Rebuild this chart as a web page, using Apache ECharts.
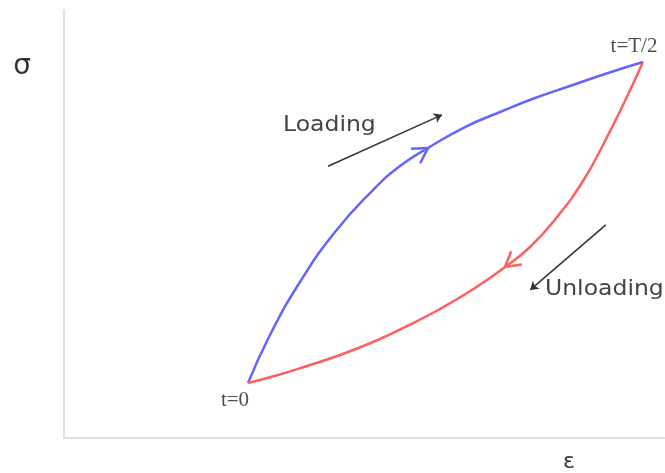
<!DOCTYPE html>
<html>
<head>
<meta charset="utf-8">
<script src="https://cdn.jsdelivr.net/npm/echarts@6/dist/echarts.min.js"></script>
<style>
  html, body { margin: 0; padding: 0; background: #fff; }
  #chart { width: 665px; height: 473px; }
</style>
</head>
<body>
<div id="chart"></div>
<script>
// Strain (ε) / stress (σ) hysteresis loop, arbitrary units 0–10
const loadingPath = [
  [3.067, 1.285], [3.433, 2.407], [3.933, 3.645], [4.517, 4.813],
  [5.150, 5.794], [5.600, 6.355], [6.067, 6.776], [6.683, 7.266],
  [7.267, 7.617], [7.850, 7.944], [8.383, 8.201], [9.017, 8.505],
  [9.650, 8.785]
];
const unloadingPath = [
  [9.650, 8.785], [9.317, 7.780], [8.983, 6.846], [8.650, 6.005],
  [8.217, 5.164], [7.767, 4.463], [7.350, 3.995], [6.850, 3.505],
  [6.267, 3.014], [5.683, 2.593], [5.150, 2.243], [4.600, 1.939],
  [4.050, 1.682], [3.567, 1.472], [3.067, 1.285]
];
// Direction chevrons: [tipX, tipY, fromX, fromY]
const loadingChevron = [[6.067, 6.776, 5.600, 6.355]];
const unloadingChevron = [[7.350, 3.995, 7.767, 4.463]];
// Annotation arrows: start -> end
const loadingNote = [[4.40, 6.35], [6.30, 7.55]];
const unloadingNote = [[9.03, 4.98], [7.77, 3.46]];
// End-point labels
const startPoint = { value: [3.067, 1.285], name: 't=0' };
const turnPoint = { value: [9.650, 8.785], name: 't=T/2' };
const xName = 'ε';
const yName = 'σ';

const BLUE = 'rgb(100,100,255)';
const RED = 'rgb(255,95,95)';

function chevron(color) {
  return function (params, api) {
    const tip = api.coord([api.value(0), api.value(1)]);
    const from = api.coord([api.value(2), api.value(3)]);
    const ang = Math.atan2(tip[1] - from[1], tip[0] - from[0]);
    const len = 17, spread = Math.PI / 6;
    const a1 = [tip[0] - len * Math.cos(ang - spread), tip[1] - len * Math.sin(ang - spread)];
    const a2 = [tip[0] - len * Math.cos(ang + spread), tip[1] - len * Math.sin(ang + spread)];
    return {
      type: 'polyline',
      shape: { points: [a1, tip, a2] },
      style: { stroke: color, lineWidth: 2.5, fill: null }
    };
  };
}

const serifLabel = { show: true, formatter: '{b}', color: '#222',
  fontFamily: 'Liberation Serif', fontSize: 21, position: 'inside' };

const chart = echarts.init(document.getElementById('chart'));
chart.setOption({
  animation: false,
  backgroundColor: '#fff',
  grid: { left: 64, right: 1, top: 10, bottom: 35 },
  xAxis: {
    type: 'value', min: 0, max: 10,
    axisLine: { show: true, onZero: false, lineStyle: { color: '#dedede', width: 2 } },
    axisTick: { show: false }, axisLabel: { show: false }, splitLine: { show: false }
  },
  yAxis: {
    type: 'value', min: 0, max: 10,
    axisLine: { show: true, onZero: false, lineStyle: { color: '#dedede', width: 2 } },
    axisTick: { show: false }, axisLabel: { show: false }, splitLine: { show: false }
  },
  graphic: [
    { type: 'text', x: 22, y: 67, style: { text: yName, font: '28px "DejaVu Sans"', fill: '#333', align: 'center', verticalAlign: 'middle' } },
    { type: 'text', x: 569, y: 462, style: { text: xName, font: '22px "DejaVu Sans"', fill: '#333', align: 'center', verticalAlign: 'middle' } },
    { type: 'text', x: 283, y: 126, scaleX: 1.12, style: { text: 'Loading', font: '21px "DejaVu Sans"', fill: '#444', verticalAlign: 'middle' } },
    { type: 'text', x: 545, y: 290, scaleX: 1.12, style: { text: 'Unloading', font: '21px "DejaVu Sans"', fill: '#444', verticalAlign: 'middle' } }
  ],
  series: [
    {
      type: 'line', data: loadingPath, smooth: 0.5, showSymbol: false,
      lineStyle: { color: BLUE, width: 2.5 }, z: 3
    },
    {
      type: 'line', data: unloadingPath, smooth: 0.5, showSymbol: false,
      lineStyle: { color: RED, width: 2.5 }, z: 3
    },
    { type: 'custom', data: loadingChevron, renderItem: chevron(BLUE), z: 4 },
    { type: 'custom', data: unloadingChevron, renderItem: chevron(RED), z: 4 },
    {
      type: 'lines', coordinateSystem: 'cartesian2d',
      data: [{ coords: loadingNote }, { coords: unloadingNote }],
      symbol: ['none', 'arrow'], symbolSize: 8,
      lineStyle: { color: '#333', width: 1.5, opacity: 1 }
    },
    {
      type: 'scatter', symbolSize: 0, z: 5,
      data: [
        Object.assign({}, startPoint, { label: Object.assign({}, serifLabel, { offset: [-13, 17] }) }),
        Object.assign({}, turnPoint, { label: Object.assign({}, serifLabel, { offset: [-9, -16] }) })
      ]
    }
  ]
});
</script>
</body>
</html>
